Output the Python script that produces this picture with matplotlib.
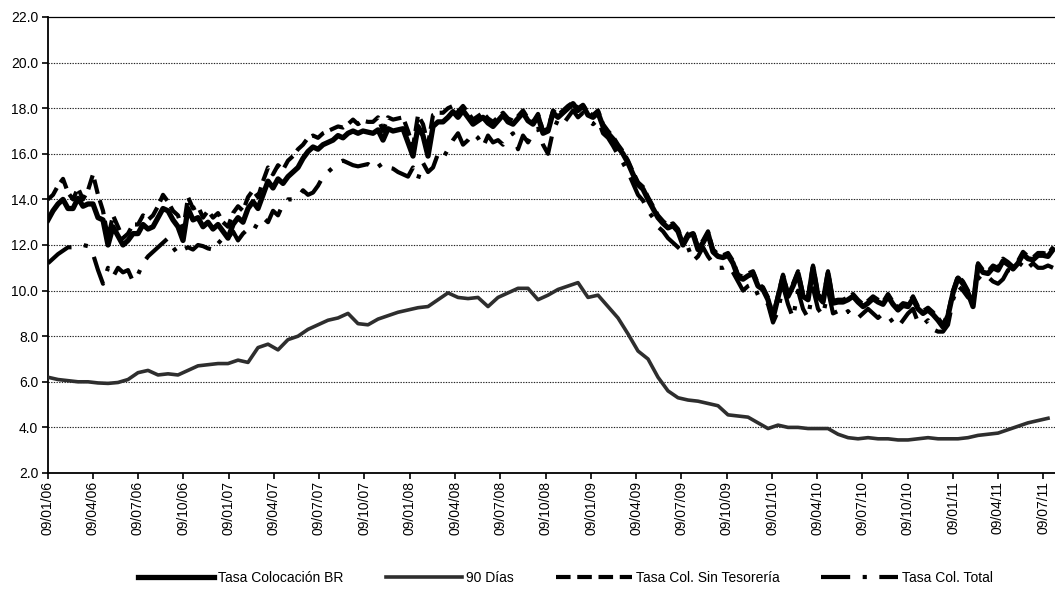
import matplotlib
matplotlib.use("Agg")
import matplotlib.pyplot as plt
from matplotlib.ticker import FormatStrFormatter, MultipleLocator
import pandas as pd

plt.rcParams['font.family'] = ['Liberation Sans', 'DejaVu Sans']

# ---- data ----
start_date = '2006-01-09'
end_date = '2011-07-29'
n_points = 202

tick_dates = ['2006-01-09', '2006-04-09', '2006-07-09', '2006-10-09',
              '2007-01-09', '2007-04-09', '2007-07-09', '2007-10-09',
              '2008-01-09', '2008-04-09', '2008-07-09', '2008-10-09',
              '2009-01-09', '2009-04-09', '2009-07-09', '2009-10-09',
              '2010-01-09', '2010-04-09', '2010-07-09', '2010-10-09',
              '2011-01-09', '2011-04-09', '2011-07-09']
tick_labels = ['09/01/06', '09/04/06', '09/07/06', '09/10/06',
               '09/01/07', '09/04/07', '09/07/07', '09/10/07',
               '09/01/08', '09/04/08', '09/07/08', '09/10/08',
               '09/01/09', '09/04/09', '09/07/09', '09/10/09',
               '09/01/10', '09/04/10', '09/07/10', '09/10/10',
               '09/01/11', '09/04/11', '09/07/11']

tasa_br = [13.1, 13.5, 13.8, 14.0, 13.6, 13.6, 14.05, 13.7, 13.8, 13.8,
           13.2, 13.1, 12.0, 12.8, 12.4, 12.0, 12.2, 12.5, 12.5, 12.9,
           12.7, 12.8, 13.2, 13.6, 13.5, 13.1, 12.8, 12.2, 13.6, 13.1,
           13.2, 12.8, 13.0, 12.7, 12.9, 12.6, 12.3, 12.9, 13.2, 13.0,
           13.6, 13.9, 13.6, 14.2, 14.8, 14.5, 14.9, 14.7, 15.0, 15.2,
           15.4, 15.8, 16.1, 16.3, 16.2, 16.4, 16.5, 16.6, 16.8, 16.7,
           16.9, 17.0, 16.9, 17.0, 16.95, 16.9, 17.05, 16.6, 17.1, 17.0,
           17.05, 17.1, 16.5, 15.9, 17.2, 16.8, 15.9, 17.2, 17.4, 17.4,
           17.6, 17.85, 17.6, 17.9, 17.6, 17.3, 17.45, 17.6, 17.35, 17.2,
           17.45, 17.7, 17.4, 17.3, 17.55, 17.8, 17.45, 17.3, 17.65, 16.9,
           17.0, 17.8, 17.6, 17.8, 18.0, 18.2, 17.9, 18.1, 17.7, 17.6,
           17.8, 17.2, 16.9, 16.65, 16.3, 16.0, 15.6, 15.1, 14.65, 14.45,
           14.0, 13.6, 13.2, 12.95, 12.75, 12.85, 12.6, 12.0, 12.4, 12.5,
           11.8, 12.1, 12.5, 11.7, 11.5, 11.45, 11.55, 11.2, 10.6, 10.5,
           10.65, 10.75, 10.2, 10.05, 9.6, 8.8, 9.7, 10.6, 9.75, 10.2,
           10.75, 9.75, 9.6, 11.0, 9.75, 9.5, 10.75, 9.45, 9.5, 9.5,
           9.6, 9.75, 9.5, 9.3, 9.45, 9.65, 9.5, 9.4, 9.75, 9.4,
           9.15, 9.35, 9.3, 9.65, 9.2, 9.0, 9.15, 8.95, 8.7, 8.4,
           8.9, 9.9, 10.55, 10.3, 9.9, 9.3, 11.1, 10.8, 10.75, 11.0,
           10.9, 11.3, 11.15, 10.95, 11.2, 11.6, 11.4, 11.35, 11.55, 11.55,
           11.5, 11.8]

sin_tesoreria = [14.0, 14.2, 14.6, 14.9, 14.3, 14.0, 14.5, 14.0, 14.4, 15.1,
                 14.2, 13.5, 12.3, 13.3, 12.8, 12.3, 12.5, 12.9, 12.9, 13.3,
                 13.1, 13.3, 13.7, 14.2, 13.9, 13.5, 13.3, 12.6, 14.1, 13.6,
                 13.7, 13.2, 13.5, 13.2, 13.4, 13.0, 12.8, 13.4, 13.7, 13.5,
                 14.1, 14.4, 14.1, 14.8, 15.4, 15.1, 15.5, 15.3, 15.7, 15.9,
                 16.2, 16.4, 16.7, 16.8, 16.7, 16.9, 17.0, 17.1, 17.2, 17.15,
                 17.3, 17.5, 17.3, 17.45, 17.4, 17.4, 17.6, 17.0, 17.6, 17.5,
                 17.55, 17.6, 17.0, 16.3, 17.7, 17.3, 16.4, 17.7, 17.8, 17.8,
                 18.0, 18.1, 17.85, 18.1, 17.8, 17.5, 17.65, 17.8, 17.55, 17.4,
                 17.6, 17.8, 17.55, 17.45, 17.65, 17.9, 17.55, 17.4, 17.75, 17.0,
                 17.1, 17.9, 17.7, 17.9, 18.1, 18.25, 18.0, 18.15, 17.8, 17.7,
                 17.9, 17.3, 17.0, 16.75, 16.4, 16.1, 15.7, 15.2, 14.75, 14.55,
                 14.1, 13.7, 13.3, 13.05, 12.85, 12.95, 12.7, 12.1, 12.5, 12.6,
                 11.9, 12.2, 12.6, 11.8, 11.6, 11.55, 11.65, 11.3, 10.7, 10.6,
                 10.75, 10.85, 10.3, 10.15, 9.7, 8.9, 9.8, 10.7, 9.85, 10.3,
                 10.85, 9.85, 9.7, 11.1, 9.85, 9.6, 10.85, 9.55, 9.6, 9.6,
                 9.7, 9.85, 9.6, 9.4, 9.55, 9.75, 9.6, 9.5, 9.85, 9.5,
                 9.25, 9.45, 9.4, 9.75, 9.3, 9.1, 9.25, 9.05, 8.8, 8.5,
                 9.0, 10.0, 10.65, 10.4, 10.0, 9.4, 11.2, 10.9, 10.85, 11.1,
                 11.0, 11.4, 11.25, 11.05, 11.3, 11.7, 11.5, 11.45, 11.65, 11.65,
                 11.6, 11.9]

col_total = [11.2, 11.4, 11.6, 11.75, 11.9, 11.9, 11.95, 12.0, 11.95, 11.6,
             10.9, 10.3, 11.0, 10.6, 11.0, 10.8, 10.9, 10.4, 10.7, 11.2,
             11.5, 11.7, 11.9, 12.1, 12.3, 11.9, 11.6, 11.8, 11.9, 11.8,
             12.0, 11.95, 11.85, 11.8, 12.2, 12.0, 12.3, 12.6, 12.2, 12.5,
             12.7, 12.6, 13.0, 13.2, 13.0, 13.5, 13.3, 13.8, 14.0, 14.0,
             14.1, 14.4, 14.2, 14.3, 14.6, 15.0, 15.2, 15.4, 15.6, 15.7,
             15.6, 15.5, 15.45, 15.5, 15.55, 15.4, 15.6, 15.3, 15.4, 15.35,
             15.2, 15.1, 15.0, 15.4, 14.9, 15.6, 15.2, 15.4, 16.0, 15.8,
             16.2, 16.6, 16.9, 16.4, 16.6, 16.9, 16.7, 16.3, 16.8, 16.5,
             16.6, 16.4, 16.7, 16.9, 16.2, 16.8, 16.5, 16.9, 17.1, 16.4,
             16.0, 17.0, 17.5, 17.3, 17.6, 17.9, 17.6, 17.8, 17.5, 17.3,
             17.5, 16.9, 16.7, 16.35, 15.95, 15.6, 15.2, 14.7, 14.2, 13.95,
             13.5, 13.2, 12.8, 12.6, 12.3, 12.1, 11.9, 11.7, 11.9, 11.3,
             11.5, 11.9, 11.5, 11.2, 11.0, 11.0, 11.1, 10.8, 10.4, 10.0,
             10.2, 10.3, 9.8, 9.7, 9.4, 8.6, 9.1, 10.2, 9.4, 8.8,
             10.0, 9.2, 8.8, 10.1, 9.2, 8.9, 10.0, 9.0, 9.1, 8.9,
             9.1, 8.8, 8.8, 9.0, 9.2, 9.0, 8.8, 9.0, 8.9, 8.6,
             8.4, 8.7, 9.0, 9.2, 8.6, 8.5, 8.7, 8.3, 8.2, 8.2,
             8.5, 9.6, 10.2, 10.0, 9.7, 9.6, 10.6, 10.4, 10.6, 10.4,
             10.3, 10.5, 10.9, 10.8, 11.0, 11.3, 11.0, 11.2, 11.0, 11.0,
             11.1, 11.0]

# 90 Dias, sampled on every second date of the grid
dias_90 = [6.2, 6.1, 6.05, 6.0, 6.0, 5.95, 5.93, 5.97, 6.1, 6.4,
           6.5, 6.3, 6.35, 6.3, 6.5, 6.7, 6.75, 6.8, 6.8, 6.95,
           6.85, 7.5, 7.65, 7.4, 7.85, 8.0, 8.3, 8.5, 8.7, 8.8,
           9.0, 8.55, 8.5, 8.75, 8.9, 9.05, 9.15, 9.25, 9.3, 9.6,
           9.9, 9.7, 9.65, 9.7, 9.3, 9.7, 9.9, 10.1, 10.1, 9.6,
           9.8, 10.05, 10.2, 10.35, 9.7, 9.8, 9.3, 8.8, 8.1, 7.35,
           7.0, 6.2, 5.6, 5.3, 5.2, 5.15, 5.05, 4.95, 4.55, 4.5,
           4.45, 4.2, 3.95, 4.1, 4.0, 4.0, 3.95, 3.95, 3.95, 3.7,
           3.55, 3.5, 3.55, 3.5, 3.5, 3.45, 3.45, 3.5, 3.55, 3.5,
           3.5, 3.5, 3.55, 3.65, 3.7, 3.75, 3.9, 4.05, 4.2, 4.3,
           4.4]

series_names = ['Tasa Colocación BR', '90 Días', 'Tasa Col. Sin Tesorería', 'Tasa Col. Total']

# ---- figure ----
dates = pd.date_range(start_date, end_date, periods=n_points)
dates90 = dates[::2]

fig = plt.figure(figsize=(10.55, 5.9), dpi=100)
ax = fig.add_axes([48 / 1055, 1 - 473 / 590, 1 - 48 / 1055, (473 - 17) / 590])

for y in range(4, 22, 2):
    ax.axhline(y, color='#222222', lw=0.8, ls=(0, (1.2, 1.2)), zorder=1)

l_90, = ax.plot(dates90, dias_90, color='#2e2e2e', lw=2.6, solid_joinstyle='round', zorder=3)
l_tot, = ax.plot(dates, col_total, color='black', lw=3.0, ls=(0, (7, 3, 1, 3)), zorder=3)
l_sin, = ax.plot(dates, sin_tesoreria, color='black', lw=3.0, ls=(0, (3.5, 1.6)), zorder=3)
l_br, = ax.plot(dates, tasa_br, color='black', lw=3.8, solid_joinstyle='round', zorder=4)

ax.set_ylim(2, 22)
ax.yaxis.set_major_locator(MultipleLocator(2))
ax.yaxis.set_major_formatter(FormatStrFormatter('%.1f'))
ax.set_xlim(pd.Timestamp(start_date), pd.Timestamp('2011-08-02'))
ax.set_xticks(pd.to_datetime(tick_dates))
ax.set_xticklabels(tick_labels, rotation=90)

ax.spines['right'].set_visible(False)
ax.spines['top'].set_linewidth(0.9)
ax.spines['left'].set_linewidth(1.3)
ax.spines['bottom'].set_linewidth(1.3)
ax.tick_params(axis='both', direction='out', length=4, width=1.2, labelsize=10,
               colors='black', pad=2)
ax.tick_params(axis='y', pad=3)

leg = fig.legend([l_br, l_90, l_sin, l_tot], series_names, loc='lower center',
                 bbox_to_anchor=(0.536, -0.012), ncol=4, frameon=False, fontsize=10,
                 handlelength=5.5, handletextpad=0.3, columnspacing=3.0)

fig.savefig('out.png', dpi=100)
